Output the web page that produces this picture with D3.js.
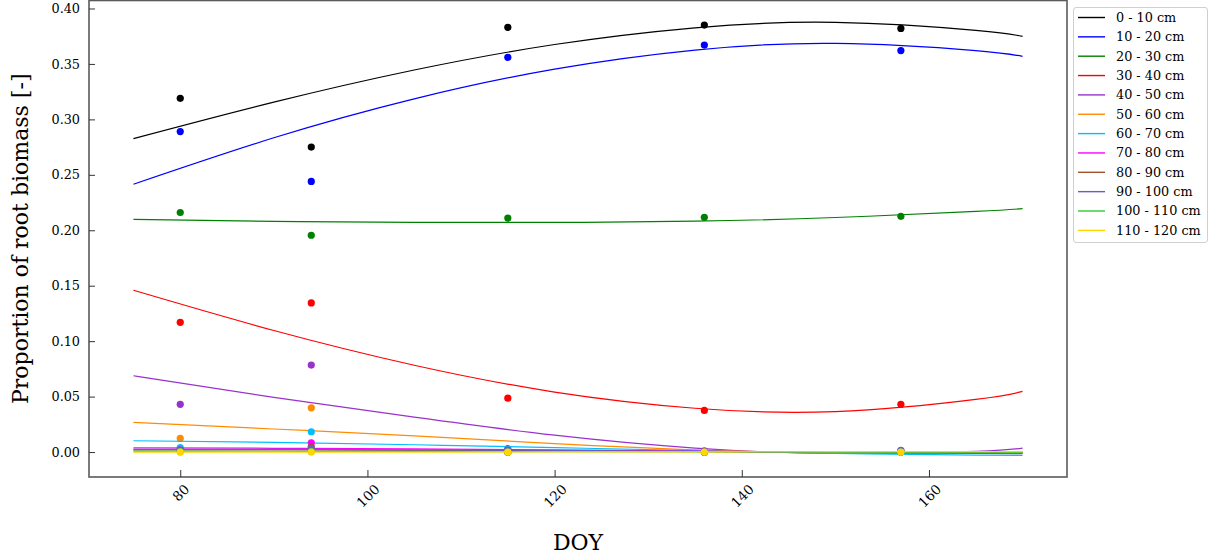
<!DOCTYPE html>
<html>
<head>
<meta charset="utf-8">
<script src="https://cdn.jsdelivr.net/npm/d3@7"></script>
<style>
  html, body { margin: 0; padding: 0; background: #fff; }
  svg { display: block; font-family: "DejaVu Serif", serif; }
</style>
</head>
<body>
<svg id="chart" width="1214" height="557"></svg>
<script>
// Soil layers (depth classes)
const layers = ["0 - 10 cm", "10 - 20 cm", "20 - 30 cm", "30 - 40 cm", "40 - 50 cm", "50 - 60 cm",
                "60 - 70 cm", "70 - 80 cm", "80 - 90 cm", "90 - 100 cm", "100 - 110 cm", "110 - 120 cm"];
const layerColors = ["#000000", "#0000ff", "#008000", "#ff0000", "#9932cc", "#ff8c00",
                     "#00bfff", "#ff00ff", "#a0522d", "#6a5acd", "#32cd32", "#ffd700"];

// Sampling days (observations)
const obsDOY = [80, 94, 115, 136, 157];
const obs0_10   = [0.319, 0.275, 0.383, 0.385, 0.382];
const obs10_20  = [0.289, 0.244, 0.356, 0.367, 0.362];
const obs20_30  = [0.216, 0.1955, 0.211, 0.2117, 0.2126];
const obs30_40  = [0.117, 0.1345, 0.0486, 0.0375, 0.043];
const obs40_50  = [0.043, 0.0784, 0.003, 0.001, 0.001];
const obs50_60  = [0.0123, 0.0399, 0.0, 0.0, 0.0];
const obs60_70  = [0.0040, 0.0183, 0.0, 0.0, 0.0];
const obs70_80  = [0.0020, 0.0084, 0.0, 0.0, 0.0];
const obs80_90  = [0.0012, 0.0048, 0.0, 0.0, 0.0];
const obs90_100 = [0.0018, 0.0030, 0.0020, 0.0, 0.0015];
const obs100_110 = [0.0003, 0.0005, 0.0, 0.0, 0.0];
const obs110_120 = [0.0, 0.0, 0.0, 0.0, 0.0];

// Fitted trend curves, sampled over the season
const fitDOY = [75, 90, 105, 120, 135, 150, 165, 170];
const fit0_10   = [0.2826, 0.3155, 0.3445, 0.3675, 0.3826, 0.3875, 0.3803, 0.3748];
const fit10_20  = [0.2415, 0.2834, 0.3185, 0.3453, 0.3625, 0.3685, 0.3620, 0.3568];
const fit20_30  = [0.2098, 0.2080, 0.2072, 0.2071, 0.2082, 0.2115, 0.2170, 0.2195];
const fit30_40  = [0.1459, 0.1096, 0.0783, 0.0541, 0.0395, 0.0365, 0.0475, 0.0547];
const fit40_50  = [0.0688, 0.0493, 0.0315, 0.0152, 0.0036, -0.0012, 0.0006, 0.0036];
const fit50_60  = [0.0268, 0.0208, 0.0145, 0.0076, 0.0020, -0.0007, -0.0010, -0.0008];
const fit60_70  = [0.0102, 0.0087, 0.0066, 0.0040, 0.0013, -0.0012, -0.0027, -0.0030];
const fit70_80  = [0.0038, 0.0034, 0.0028, 0.0019, 0.0008, -0.0002, -0.0006, -0.0004];
const fit80_90  = [0.0020, 0.0019, 0.0016, 0.0011, 0.0005, 0.0000, -0.0004, -0.0005];
const fit90_100 = [0.0025, 0.0024, 0.0020, 0.0014, 0.0006, -0.0003, -0.0012, -0.0015];
const fit100_110 = [0.0008, 0.0007, 0.0006, 0.0004, 0.0002, 0.0000, -0.0002, -0.0003];
const fit110_120 = [-0.0002, -0.0001, 0.0000, 0.0001, 0.0002, 0.0003, 0.0003, 0.0003];

const xTicks = [80, 100, 120, 140, 160];
const yTicks = [0.00, 0.05, 0.10, 0.15, 0.20, 0.25, 0.30, 0.35, 0.40];
const xTitle = "DOY";
const yTitle = "Proportion of root biomass [-]";

const obsSeries = [obs0_10, obs10_20, obs20_30, obs30_40, obs40_50, obs50_60,
                   obs60_70, obs70_80, obs80_90, obs90_100, obs100_110, obs110_120];
const fitSeries = [fit0_10, fit10_20, fit20_30, fit30_40, fit40_50, fit50_60,
                   fit60_70, fit70_80, fit80_90, fit90_100, fit100_110, fit110_120];

const svg = d3.select("#chart");
const plot = { left: 89, right: 1067, top: 0.5, bottom: 477 };

const x = d3.scaleLinear().domain([70.25, 174.75]).range([plot.left, plot.right]);
const y = d3.scaleLinear().domain([-0.0225, 0.4072]).range([plot.bottom, plot.top]);

const g = svg.append("g");

// curves and points, layer by layer
const line = d3.line().x(d => x(d[0])).y(d => y(d[1])).curve(d3.curveNatural);
layers.forEach((name, i) => {
  const pts = fitDOY.map((d, k) => [d, fitSeries[i][k]]);
  g.append("path")
    .attr("d", line(pts))
    .attr("fill", "none")
    .attr("stroke", layerColors[i])
    .attr("stroke-width", 1.2);
  g.selectAll(null)
    .data(obsDOY.map((d, k) => [d, obsSeries[i][k]]))
    .enter().append("circle")
    .attr("cx", d => x(d[0]))
    .attr("cy", d => y(d[1]))
    .attr("r", 3.6)
    .attr("fill", layerColors[i]);
});

// frame
const axisColor = "#5a5a5a";
svg.append("rect")
  .attr("x", plot.left).attr("y", plot.top)
  .attr("width", plot.right - plot.left).attr("height", plot.bottom - plot.top)
  .attr("fill", "none").attr("stroke", axisColor).attr("stroke-width", 1.6);

// y axis (ticks pointing inward)
const yAxis = svg.append("g").attr("transform", `translate(${plot.left},0)`)
  .call(d3.axisLeft(y).tickValues(yTicks).tickFormat(d3.format(".2f")).tickSizeInner(-6).tickSizeOuter(0).tickPadding(9));
yAxis.select(".domain").remove();
yAxis.selectAll(".tick line").attr("stroke", "#333").attr("stroke-width", 1);
yAxis.selectAll(".tick text").attr("font-family", "DejaVu Serif").attr("font-size", 12.8).attr("fill", "#000");

// x axis (ticks pointing inward, labels turned 45 degrees)
const xFont = 13.5;
const xAxis = svg.append("g").attr("transform", `translate(0,${plot.bottom})`)
  .call(d3.axisBottom(x).tickValues(xTicks).tickSizeInner(-7).tickSizeOuter(0).tickFormat(d3.format("d")));
xAxis.select(".domain").remove();
xAxis.selectAll(".tick line").attr("stroke", "#333").attr("stroke-width", 1);
xAxis.selectAll(".tick text")
  .attr("font-family", "DejaVu Serif").attr("font-size", xFont).attr("fill", "#000")
  .attr("dy", null).attr("y", 0)
  .attr("text-anchor", "middle").attr("dominant-baseline", "central")
  .each(function () {
    const w = this.getComputedTextLength();
    const h = (w + 0.75 * xFont) * Math.SQRT1_2;
    d3.select(this).attr("transform", `translate(0,${6 + h / 2}) rotate(-45)`);
  });

// axis titles
svg.append("text")
  .attr("x", (plot.left + plot.right) / 2).attr("y", 550)
  .attr("text-anchor", "middle")
  .attr("font-size", 22).attr("fill", "#000")
  .text(xTitle);
svg.append("text")
  .attr("transform", `translate(28,${(plot.top + plot.bottom) / 2}) rotate(-90)`)
  .attr("text-anchor", "middle")
  .attr("font-size", 22).attr("fill", "#000")
  .text(yTitle);

// legend
const lg = svg.append("g");
lg.append("rect")
  .attr("x", 1073.5).attr("y", 7.5).attr("width", 134).attr("height", 235)
  .attr("rx", 2.5).attr("fill", "#fff").attr("stroke", "#d0d0d0").attr("stroke-width", 1);
layers.forEach((name, i) => {
  const yy = 17.5 + i * 19.35;
  lg.append("line")
    .attr("x1", 1078).attr("x2", 1105).attr("y1", yy).attr("y2", yy)
    .attr("stroke", layerColors[i]).attr("stroke-width", 1.4);
  lg.append("text")
    .attr("x", 1116).attr("y", yy).attr("dy", "0.35em")
    .attr("font-size", 12.8).attr("fill", "#000")
    .text(name);
});
</script>
</body>
</html>
